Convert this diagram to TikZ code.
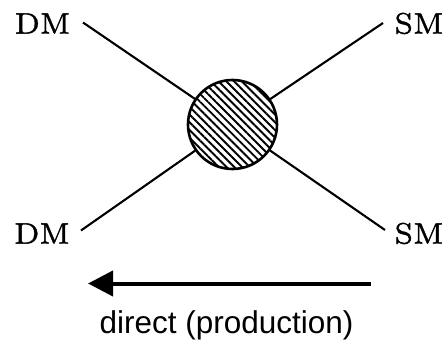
\documentclass[tikz,border=0pt]{standalone}
\usepackage{fontspec}
\newfontfamily\labsans{Liberation Sans}
\newfontfamily\labserif{lmroman7-regular.otf}[FakeBold=1.2]
\usetikzlibrary{patterns.meta,arrows.meta}
\begin{document}
\begin{tikzpicture}[x=1pt,y=-1pt,
  lab/.style={inner sep=0pt,font=\labserif\fontsize{29.5}{32}\selectfont},
  leg/.style={line width=2.1pt},
  blob/.style={circle,draw,line width=2.6pt,minimum size=89pt,inner sep=0pt,
    pattern={Lines[angle=-45,distance=5.5pt,line width=1.9pt]}}]
\useasboundingbox (0,0) rectangle (448,345);
\node[blob] (c) at (232.5,124.5) {};
\node[lab] (dm1) at (42.5,23.5) {DM};
\node[lab] (dm2) at (42,233.5) {DM};
\node[lab] (sm1) at (419,23.5) {SM};
\node[lab] (sm2) at (419,233.5) {SM};
\coordinate (a1) at (83,22.5);
\coordinate (a2) at (81,230.5);
\coordinate (b1) at (383,23);
\coordinate (b2) at (385,230);
\draw[leg] (a1) -- (c);
\draw[leg] (a2) -- (c);
\draw[leg] (b1) -- (c);
\draw[leg] (b2) -- (c);
\coordinate (r0) at (371,283.5);
\coordinate (r1) at (88,283.5);
\draw[line width=4pt,-{Triangle[length=25pt,width=25pt]}] (r0) -- (r1);
\node[font=\labsans\fontsize{31.5}{36}\selectfont,inner sep=0pt] (t) at (226.5,325) {direct (production)};
\end{tikzpicture}
\end{document}
